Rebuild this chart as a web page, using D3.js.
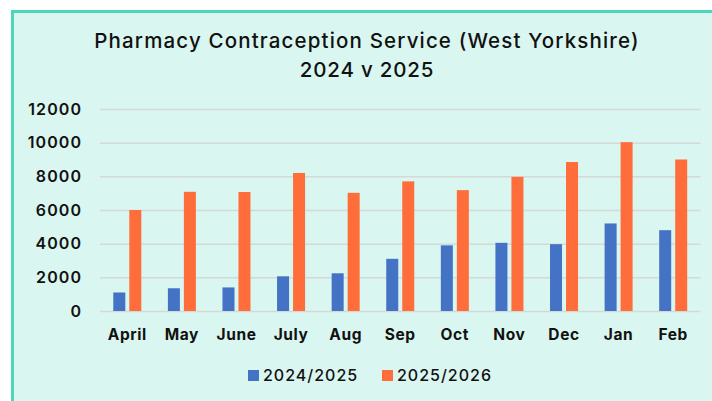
<!DOCTYPE html>
<html><head><meta charset="utf-8">
<script src="https://cdn.jsdelivr.net/npm/d3@7"></script>
<style>
html,body{margin:0;padding:0;background:#fff;}
svg{display:block;}
text{font-family:"Inter","Lato",sans-serif;fill:#111;}
</style></head>
<body>
<svg id="chart" width="712" height="401"></svg>
<script>
const categories = ["April","May","June","July","Aug","Sep","Oct","Nov","Dec","Jan","Feb"];
const seriesNames = ["2024/2025","2025/2026"];
const values2024 = [1100,1350,1400,2060,2240,3100,3900,4050,3970,5200,4800];
const values2025 = [6000,7080,7070,8200,7020,7700,7180,7970,8850,10030,9000];
const yTicks = [0,2000,4000,6000,8000,10000,12000];
const titleLines = ["Pharmacy Contraception Service (West Yorkshire)","2024 v 2025"];
const colors = ["#4472c4","#ff6d3a"];

const svg = d3.select("#chart");
// panel
svg.append("rect").attr("x",11).attr("y",10).attr("width",712).attr("height",401).attr("fill","#daf6f0");
svg.append("rect").attr("x",11).attr("y",10).attr("width",3).attr("height",401).attr("fill","#4dd6bd");
svg.append("rect").attr("x",11).attr("y",10).attr("width",712).attr("height",3).attr("fill","#4dd6bd");

const x0 = d3.scaleBand().domain(categories).range([100,700.5]).paddingInner(0).paddingOuter(0);
const y = d3.scaleLinear().domain([0,12000]).range([311,109]);

// gridlines
const grid = svg.append("g").attr("transform","translate(100,0)")
  .call(d3.axisLeft(y).tickValues(yTicks).tickSize(-600.5).tickFormat(""));
grid.select(".domain").remove();
grid.selectAll("line").attr("stroke","#d4d9d7").attr("stroke-width",1.5);

// y labels
const yAx = svg.append("g").attr("transform","translate(81,0)")
  .call(d3.axisLeft(y).tickValues(yTicks).tickSize(0).tickPadding(0).tickFormat(d3.format("d")));
yAx.select(".domain").remove();
yAx.selectAll("text").attr("font-size",16).attr("font-weight",600).attr("fill","#111")
  .attr("letter-spacing",1.1).attr("dx",1.1)
  .style("font-family",'"Inter","Lato",sans-serif');

// bars
const bw = 12, gap = 4;
const data = categories.map((c,i)=>({c, v:[values2024[i], values2025[i]]}));
const g = svg.append("g");
data.forEach(d=>{
  const cx = x0(d.c) + x0.bandwidth()/2;
  d.v.forEach((v,j)=>{
    const xs = j===0 ? cx - gap/2 - bw : cx + gap/2;
    g.append("rect").attr("x",xs).attr("y",y(v)).attr("width",bw).attr("height",y(0)-y(v))
      .attr("fill",colors[j]);
  });
});

// x labels
const xAx = svg.append("g").attr("transform","translate(0,311)")
  .call(d3.axisBottom(x0).tickSize(0).tickPadding(18));
xAx.select(".domain").remove();
xAx.selectAll("text").attr("font-size",15.5).attr("font-weight",700).attr("fill","#111")
  .attr("letter-spacing",0.6)
  .style("font-family",'"Inter","Lato",sans-serif');

// title
svg.append("text").attr("x",367).attr("y",48).attr("text-anchor","middle")
  .attr("font-size",20.5).attr("font-weight",500).attr("letter-spacing",1.15).text(titleLines[0]);
svg.append("text").attr("x",367).attr("y",77).attr("text-anchor","middle")
  .attr("font-size",20.5).attr("font-weight",500).attr("letter-spacing",0.8).text(titleLines[1]);

// legend
const legX = [248, 382];
seriesNames.forEach((n,j)=>{
  svg.append("rect").attr("x",legX[j]).attr("y",370).attr("width",11).attr("height",11).attr("fill",colors[j]);
  svg.append("text").attr("x",legX[j]+15).attr("y",381).attr("font-size",16).attr("font-weight",500)
    .attr("letter-spacing",1).text(n);
});
</script>
</body></html>
